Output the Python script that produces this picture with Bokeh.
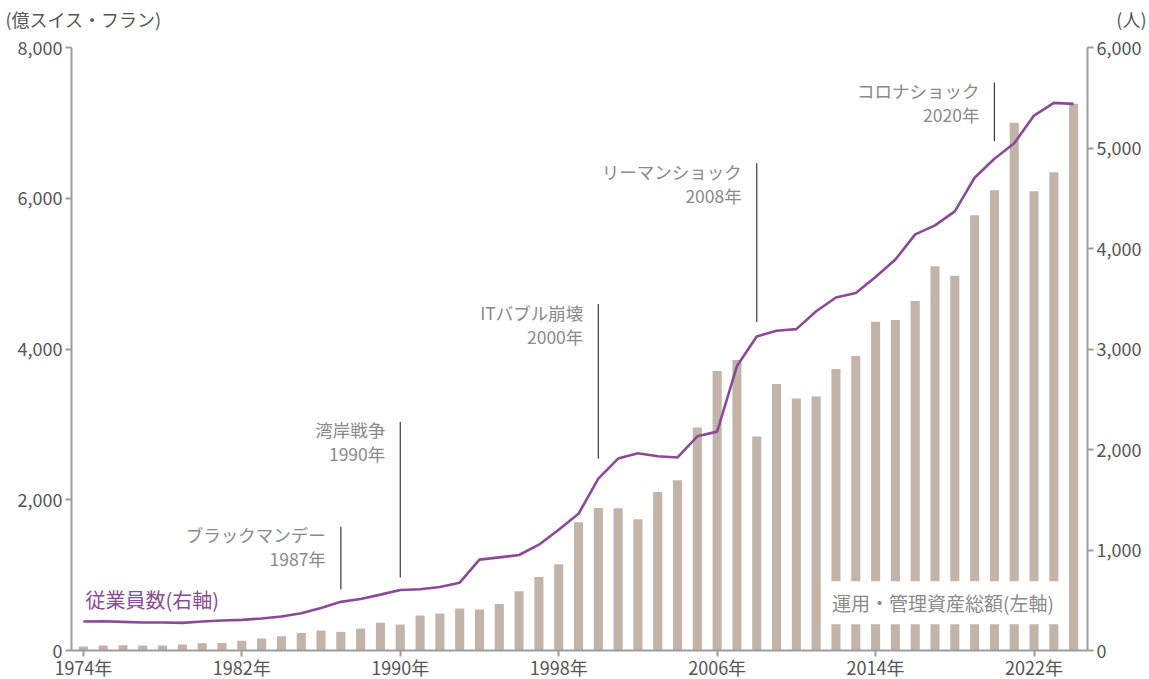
from bokeh.plotting import figure
from bokeh.models import (ColumnDataSource, Range1d, LinearAxis, FixedTicker,
                          NumeralTickFormatter, Label)
from bokeh.embed import file_html
from bokeh.resources import INLINE

# ---------------- data ----------------
years = list(range(1974, 2025))
aum = [53, 66, 71, 66, 66, 79, 97, 101, 128, 159, 190, 234, 265, 247, 291, 369,
       344, 464, 490, 556, 543, 618, 786, 976, 1143, 1700, 1890, 1886, 1740, 2102,
       2260, 2958, 3709, 3854, 2839, 3536, 3342, 3369, 3735, 3907, 4362, 4384,
       4636, 5099, 4971, 5775, 6106, 7002, 6093, 6344, 7254]
employees = [288, 291, 285, 278, 278, 275, 288, 298, 305, 318, 338, 370, 424, 484,
             513, 556, 602, 609, 632, 675, 904, 927, 950, 1053, 1202, 1360, 1711,
             1910, 1963, 1933, 1921, 2131, 2178, 2830, 3125, 3181, 3198, 3376, 3512,
             3558, 3717, 3890, 4141, 4230, 4369, 4704, 4893, 5048, 5323, 5449, 5439]

x_ticks = [1974, 1982, 1990, 1998, 2006, 2014, 2022]
left_ticks = [0, 2000, 4000, 6000, 8000]
right_ticks = [0, 1000, 2000, 3000, 4000, 5000, 6000]

event_years = [1987, 1990, 2000, 2008, 2020]
event_names = ["ブラックマンデー", "湾岸戦争", "ITバブル崩壊", "リーマンショック", "コロナショック"]
event_labels = ["1987年", "1990年", "2000年", "2008年", "2020年"]
event_top = [1642, 3033, 4596, 6464, 7536]      # left-axis units
event_bottom = [808, 967, 2543, 4358, 6755]

left_title = "(億スイス・フラン)"
right_title = "(人)"
emp_legend = "従業員数(右軸)"
aum_legend = "運用・管理資産総額(左軸)"

# ---------------- style / layout ----------------
FONT = "Noto Sans CJK JP"
BAR_COLOR = "#c3b4a9"
LINE_COLOR = "#8b4a96"
AXIS_COLOR = "#9d9d9d"
TICK_TEXT = "#555555"
ANN_TEXT = "#8a8a8a"
W, H = 1149, 679
PLOT_L, PLOT_R, PLOT_T, PLOT_B = 71, 1087, 47, 650   # pixel box of the axes
X0, X1 = 1973.4, 2024.7
YL_MAX, YR_MAX = 8000, 6000

# ranges extended so that the axes box lands at PLOT_* while the frame
# covers the whole canvas (axes are placed with fixed_location)
px_per_x = (PLOT_R - PLOT_L) / (X1 - X0)
px_per_yl = (PLOT_B - PLOT_T) / YL_MAX
px_per_yr = (PLOT_B - PLOT_T) / YR_MAX
x_range = Range1d(X0 - PLOT_L / px_per_x, X1 + (W - PLOT_R) / px_per_x)
y_range = Range1d(-(H - PLOT_B) / px_per_yl, YL_MAX + PLOT_T / px_per_yl)
yr_range = Range1d(-(H - PLOT_B) / px_per_yr, YR_MAX + PLOT_T / px_per_yr)

src = ColumnDataSource(dict(year=years, aum=aum, emp=employees))

p = figure(width=W, height=H, output_backend="svg", toolbar_location=None,
           x_range=x_range, y_range=y_range, min_border=0,
           x_axis_location=None, y_axis_location=None, title_location=None)
p.extra_y_ranges = {"emp": yr_range}
p.outline_line_color = None
p.xgrid.visible = False
p.ygrid.visible = False

p.vbar(x="year", top="aum", width=0.46, source=src, fill_color=BAR_COLOR,
       line_color=None)
p.line(x="year", y="emp", source=src, y_range_name="emp", line_color=LINE_COLOR,
       line_width=2.6)

# event markers
p.segment(x0=event_years, y0=event_bottom, x1=event_years, y1=event_top,
          line_color="#3a3a3a", line_width=1.2)
for yr, nm, lb, tp in zip(event_years, event_names, event_labels, event_top):
    for txt, off in ((nm, -8), (lb, -32)):
        p.add_layout(Label(x=yr, y=tp, x_offset=-15, y_offset=off, text=txt,
                           text_align="right", text_baseline="middle",
                           text_font=FONT, text_font_size="17.5px",
                           text_color=ANN_TEXT))

# series labels
p.add_layout(Label(x=1974, y=675, x_offset=2, text=emp_legend,
                   text_align="left", text_baseline="middle", text_font=FONT,
                   text_font_size="20px", text_color=LINE_COLOR))
p.add_layout(Label(x=2012, y=635, x_offset=-12, text=aum_legend,
                   text_align="left", text_baseline="middle", text_font=FONT,
                   text_font_size="19px", text_color=ANN_TEXT,
                   background_fill_color="white", padding=8))

# axis titles (top corners)
p.add_layout(Label(x=X0, y=YL_MAX, x_offset=5 - PLOT_L, y_offset=PLOT_T - 18,
                   text=left_title, text_align="left", text_baseline="middle",
                   text_font=FONT, text_font_size="18px", text_color=TICK_TEXT))
p.add_layout(Label(x=X1, y=YL_MAX, x_offset=1146 - PLOT_R, y_offset=PLOT_T - 18,
                   text=right_title, text_align="right", text_baseline="middle",
                   text_font=FONT, text_font_size="18px", text_color=TICK_TEXT))


def style_axis(ax):
    ax.axis_line_color = AXIS_COLOR
    ax.axis_line_width = 2
    ax.major_tick_line_color = AXIS_COLOR
    ax.major_tick_line_width = 2
    ax.major_tick_out = 6
    ax.major_tick_in = 0
    ax.minor_tick_line_color = None
    ax.major_label_text_font = FONT
    ax.major_label_text_font_size = "18px"
    ax.major_label_text_color = TICK_TEXT
    ax.major_label_standoff = 3


xa = LinearAxis(fixed_location=0, bounds=(X0, X1),
                ticker=FixedTicker(ticks=x_ticks))
xa.major_label_overrides = {t: f"{t}年" for t in x_ticks}
style_axis(xa)
xa.major_label_standoff = -3
p.add_layout(xa, "below")

ya = LinearAxis(fixed_location=X0, bounds=(0, YL_MAX),
                ticker=FixedTicker(ticks=left_ticks),
                formatter=NumeralTickFormatter(format="0,0"))
style_axis(ya)
p.add_layout(ya, "left")

ra = LinearAxis(y_range_name="emp", fixed_location=X1, bounds=(0, YR_MAX),
                ticker=FixedTicker(ticks=right_ticks),
                formatter=NumeralTickFormatter(format="0,0"))
style_axis(ra)
p.add_layout(ra, "right")

open("out.html", "w").write(file_html(p, INLINE))
